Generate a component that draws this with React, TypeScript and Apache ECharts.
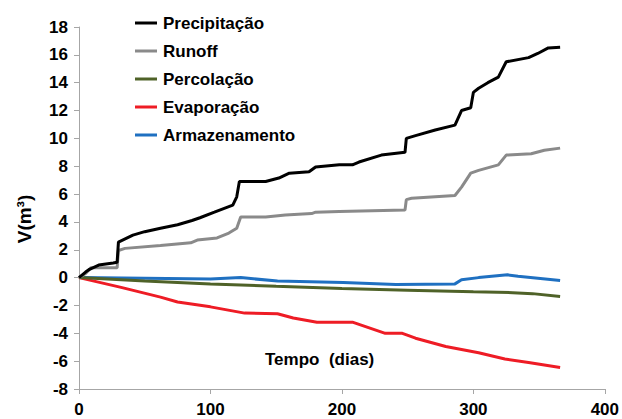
import React, { useEffect, useRef } from "react";
import * as echarts from "echarts";

const seriesNames = ["Precipitação", "Runoff", "Percolação", "Evaporação", "Armazenamento"];
const seriesColors = ["#000000", "#8a8a8a", "#4f6228", "#ee1c25", "#1f70c1"];

const precipDays = [0, 5, 8, 15, 26, 29, 30, 41, 50, 62, 75, 86, 92, 103, 107, 117, 120, 122, 142, 152, 160, 175, 180, 198, 208, 213, 230, 248, 249, 256, 271, 286, 291, 298, 300, 304, 311, 319, 325, 342, 349, 357, 366];
const precipVals = [0, 0.4, 0.6, 0.9, 1.05, 1.1, 2.55, 3.05, 3.3, 3.55, 3.8, 4.1, 4.3, 4.7, 4.85, 5.2, 5.8, 6.9, 6.9, 7.15, 7.5, 7.6, 7.95, 8.1, 8.1, 8.3, 8.8, 9.0, 10.0, 10.2, 10.6, 10.95, 12.0, 12.2, 13.3, 13.6, 14.0, 14.4, 15.5, 15.8, 16.1, 16.5, 16.55];

const runoffDays = [0, 5, 9, 29, 30, 35, 62, 85, 90, 105, 114, 120, 123, 142, 157, 177, 180, 198, 248, 249, 253, 286, 291, 298, 304, 319, 325, 344, 354, 366];
const runoffVals = [0, 0.3, 0.7, 0.7, 1.95, 2.1, 2.3, 2.5, 2.7, 2.85, 3.2, 3.55, 4.35, 4.35, 4.5, 4.6, 4.7, 4.75, 4.85, 5.6, 5.7, 5.9, 6.5, 7.5, 7.7, 8.1, 8.8, 8.9, 9.15, 9.3];

const percDays = [0, 50, 100, 150, 200, 250, 300, 330, 345, 366];
const percVals = [0, -0.25, -0.45, -0.62, -0.78, -0.9, -1.02, -1.08, -1.15, -1.35];

const evapDays = [0, 32, 62, 75, 100, 126, 151, 163, 181, 208, 233, 246, 256, 279, 304, 324, 342, 366];
const evapVals = [0, -0.7, -1.4, -1.75, -2.1, -2.55, -2.6, -2.9, -3.2, -3.2, -4.0, -4.0, -4.35, -4.95, -5.4, -5.85, -6.1, -6.45];

const storDays = [0, 50, 100, 123, 151, 201, 241, 286, 291, 304, 326, 334, 366];
const storVals = [0, -0.05, -0.1, 0.0, -0.25, -0.35, -0.5, -0.45, -0.15, 0.0, 0.2, 0.1, -0.2];

const xTicks = { min: 0, max: 400, interval: 100 };
const yTicks = { min: -8, max: 18, interval: 2 };

const zip = (xs: number[], ys: number[]) => xs.map((x, i) => [x, ys[i]]);

export default function App() {
  const ref = useRef<HTMLDivElement>(null);
  useEffect(() => {
    if (!ref.current) return;
    const chart = echarts.init(ref.current, null, { renderer: "svg" });
    const font = "'Liberation Sans', Arial, sans-serif";
    const dataSets = [
      zip(precipDays, precipVals),
      zip(runoffDays, runoffVals),
      zip(percDays, percVals),
      zip(evapDays, evapVals),
      zip(storDays, storVals),
    ];
    chart.setOption({
      animation: false,
      backgroundColor: "#ffffff",
      grid: { left: 79, right: 15, top: 27, bottom: 30, containLabel: false },
      legend: {
        orient: "vertical",
        left: 130,
        top: 9,
        icon: "rect",
        itemWidth: 22,
        itemHeight: 3,
        itemGap: 10,
        data: seriesNames,
        textStyle: {
          fontFamily: font,
          fontSize: 17,
          fontWeight: "bold",
          color: "#000",
          lineHeight: 18,
          padding: [0, 0, 0, 1],
        },
      },
      xAxis: {
        type: "value",
        min: xTicks.min,
        max: xTicks.max,
        interval: xTicks.interval,
        axisLine: { show: true, onZero: false, lineStyle: { color: "#a6a6a6", width: 1 } },
        axisTick: { show: true, length: 5, lineStyle: { color: "#a6a6a6" } },
        splitLine: { show: false },
        axisLabel: { margin: 12, fontFamily: font, fontSize: 17, fontWeight: "bold", color: "#000" },
      },
      yAxis: {
        type: "value",
        min: yTicks.min,
        max: yTicks.max,
        interval: yTicks.interval,
        axisLine: { show: true, lineStyle: { color: "#a6a6a6", width: 1 } },
        axisTick: { show: true, length: 5, lineStyle: { color: "#a6a6a6" } },
        splitLine: { show: false },
        axisLabel: { margin: 11, fontFamily: font, fontSize: 17, fontWeight: "bold", color: "#000" },
      },
      graphic: [
        {
          type: "text",
          left: 265,
          top: 351,
          style: { text: "Tempo  (dias)", font: `bold 17px ${font}`, fill: "#000" },
        },
        {
          type: "text",
          x: 24,
          y: 219,
          rotation: Math.PI / 2,
          style: {
            text: "V(m³)",
            font: `bold 19px ${font}`,
            fill: "#000",
            align: "center",
            verticalAlign: "middle",
          },
        },
      ],
      series: seriesNames.map((name, i) => ({
        name,
        type: "line",
        data: dataSets[i],
        showSymbol: false,
        symbol: "none",
        color: seriesColors[i],
        lineStyle: { color: seriesColors[i], width: 3 },
        z: 10 - i,
      })),
    });
    return () => chart.dispose();
  }, []);
  return <div ref={ref} style={{ width: 622, height: 419, position: "absolute", left: 0, top: 0 }} />;
}
